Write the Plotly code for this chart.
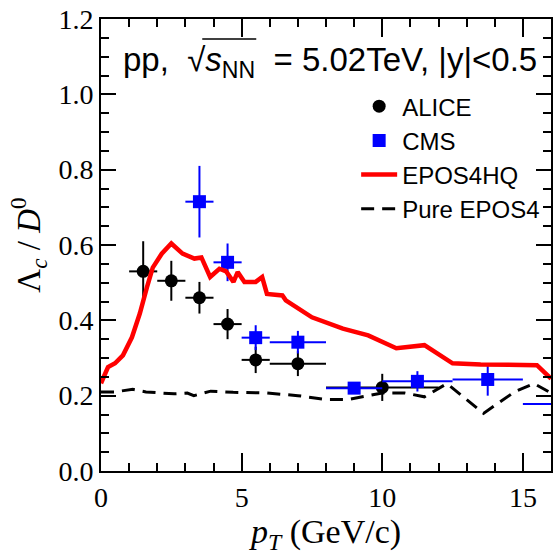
import plotly.graph_objects as go

# ALICE Lambda_c / D0 ratio
alice_pt = [1.5, 2.5, 3.5, 4.5, 5.5, 7.0, 10.0]
alice_ratio = [0.53, 0.505, 0.46, 0.39, 0.295, 0.285, 0.222]
alice_pt_err = [0.5, 0.5, 0.5, 0.5, 0.5, 1.0, 2.0]
alice_ratio_err = [0.08, 0.053, 0.042, 0.04, 0.035, 0.033, 0.036]

# CMS Lambda_c / D0 ratio
cms_pt = [3.5, 4.5, 5.5, 7.0, 9.0, 11.25, 13.75, 17.5]
cms_ratio = [0.715, 0.554, 0.354, 0.342, 0.22, 0.238, 0.243, 0.178]
cms_pt_err = [0.5, 0.5, 0.5, 1.0, 1.0, 1.25, 1.25, 2.5]
cms_ratio_err = [0.095, 0.05, 0.033, 0.03, 0.012, 0.027, 0.043, 0.02]

# EPOS4HQ prediction
hq_pt = [0, 0.25, 0.5, 0.78, 1.1, 1.38, 1.63, 1.84, 2.16, 2.5, 2.9, 3.32, 3.57,
         3.88, 4.21, 4.45, 4.71, 4.86, 5.1, 5.5, 5.73, 5.9, 6.45, 6.57, 7.5,
         8.6, 9.5, 10.5, 11.5, 12.5, 13.5, 15.5, 16.0]
hq_ratio = [0.233, 0.276, 0.286, 0.307, 0.355, 0.418, 0.487, 0.54, 0.577, 0.604,
            0.577, 0.564, 0.567, 0.515, 0.537, 0.53, 0.502, 0.528, 0.502, 0.502,
            0.515, 0.47, 0.466, 0.453, 0.408, 0.378, 0.36, 0.326, 0.334, 0.286,
            0.283, 0.281, 0.245]

# Pure EPOS4 prediction
pure_pt = [0, 0.5, 1.13, 1.6, 2.16, 2.6, 3.07, 3.3, 3.9, 4.7, 5.9, 7.0, 8.0,
           8.8, 10.0, 10.8, 11.5, 12.3, 13.6, 14.7, 15.4, 15.8, 16.0]
pure_ratio = [0.21, 0.21, 0.217, 0.21, 0.207, 0.205, 0.207, 0.2, 0.212, 0.209,
              0.207, 0.2, 0.19, 0.19, 0.207, 0.207, 0.197, 0.232, 0.153, 0.21,
              0.232, 0.215, 0.207]

x_ticks = [0, 5, 10, 15]
y_ticks = [0.0, 0.2, 0.4, 0.6, 0.8, 1.0, 1.2]

SERIF = "Liberation Serif"
SANS = "Liberation Sans"
NBSP = "\u00a0"

fig = go.Figure()

fig.add_trace(go.Scatter(
    x=alice_pt, y=alice_ratio, mode="markers", name="ALICE",
    marker=dict(symbol="circle", size=13, color="black"),
    error_x=dict(type="data", array=alice_pt_err, width=0, thickness=2, color="black"),
    error_y=dict(type="data", array=alice_ratio_err, width=0, thickness=2, color="black"),
))

fig.add_trace(go.Scatter(
    x=cms_pt, y=cms_ratio, mode="markers", name="CMS",
    marker=dict(symbol="square", size=13, color="#0000ff"),
    error_x=dict(type="data", array=cms_pt_err, width=0, thickness=2, color="#0000ff"),
    error_y=dict(type="data", array=cms_ratio_err, width=0, thickness=2, color="#0000ff"),
))

fig.add_trace(go.Scatter(
    x=hq_pt, y=hq_ratio, mode="lines", name="EPOS4HQ",
    line=dict(color="#ff0000", width=4.5),
))

fig.add_trace(go.Scatter(
    x=pure_pt, y=pure_ratio, mode="lines", name="Pure EPOS4",
    line=dict(color="black", width=3, dash="13px,8px"),
))

axis_common = dict(
    showline=True, linewidth=2, linecolor="black", mirror="ticks",
    ticks="inside", tickwidth=2, tickcolor="black",
    showgrid=False, zeroline=False,
    tickfont=dict(family=SERIF, size=28, color="black"),
)

fig.update_xaxes(
    **axis_common, range=[0, 16], tickvals=x_ticks,
    ticktext=[str(v) for v in x_ticks], ticklen=18,
    minor=dict(dtick=1, tick0=0, ticklen=8, tickwidth=1.5, ticks="inside", tickcolor="black"),
    title=dict(text="<i>p</i><sub><i>T</i></sub> (GeV/c)",
               font=dict(family=SERIF, size=34, color="black"), standoff=4),
)

fig.update_yaxes(
    **axis_common, range=[0, 1.2], tickvals=y_ticks,
    ticktext=[f"{v:.1f}" for v in y_ticks], ticklen=15,
    minor=dict(dtick=0.05, tick0=0, ticklen=8, tickwidth=1.5, ticks="inside", tickcolor="black"),
    title=dict(text="Λ<sub><i>c</i></sub> / <i>D</i><sup>0</sup>",
               font=dict(family=SERIF, size=33, color="black"), standoff=8),
)

# collision system label with a square-root bar over s_NN
fig.add_annotation(
    xref="paper", yref="paper", x=0.045, y=0.905, xanchor="left", yanchor="middle",
    text=f"pp,{NBSP}{NBSP}√<i>s</i><sub>NN</sub>{NBSP}{NBSP}= 5.02TeV, |y|<0.5",
    showarrow=False,
    font=dict(family=SANS, size=33, color="black"),
)
fig.add_shape(type="line", xref="paper", yref="paper",
              x0=0.225, x1=0.345, y0=0.956, y1=0.956,
              line=dict(color="black", width=1.5))

fig.update_layout(
    width=557, height=556,
    margin=dict(l=101, r=4, t=18, b=85),
    plot_bgcolor="white", paper_bgcolor="white",
    showlegend=True,
    legend=dict(
        x=0.567, y=0.856, xanchor="left", yanchor="top",
        bgcolor="rgba(0,0,0,0)", borderwidth=0,
        font=dict(family=SANS, size=24, color="black"),
        itemwidth=36, tracegroupgap=0,
    ),
)

fig.write_html("out.html")
